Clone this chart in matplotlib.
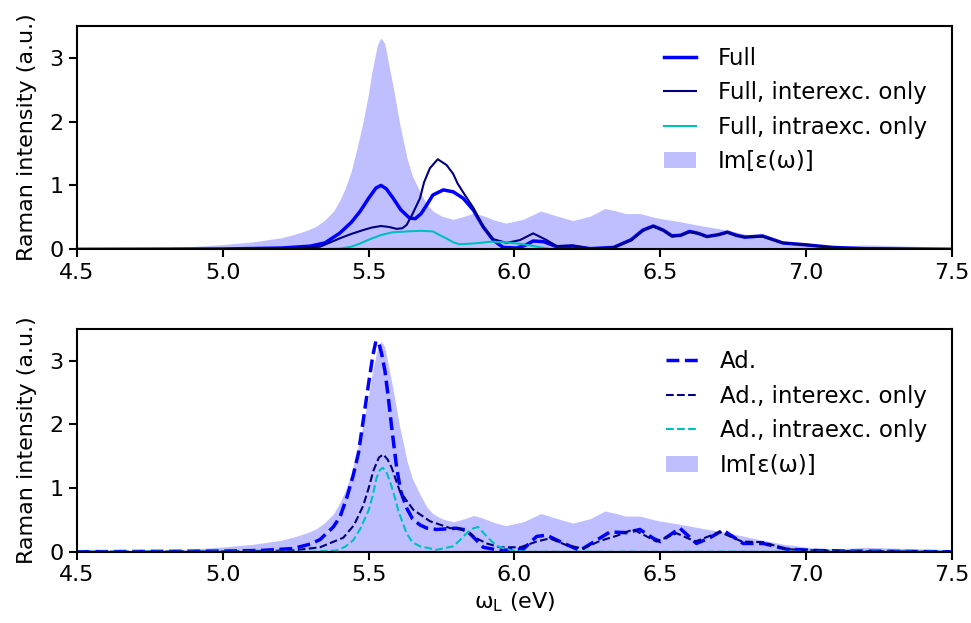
import matplotlib
matplotlib.use("Agg")
import matplotlib.pyplot as plt

# ---------------- data ----------------
# Im[eps(omega)] (shared by both panels)
im_x = [4.50, 4.60, 4.70, 4.80, 4.90, 5.00, 5.10, 5.20, 5.25, 5.29, 5.32, 5.35, 5.38, 5.40, 5.42,
        5.44, 5.46, 5.48, 5.50, 5.51, 5.52, 5.53, 5.542, 5.555, 5.565, 5.575, 5.587, 5.607, 5.632, 5.65,
        5.676, 5.70, 5.72, 5.75, 5.79, 5.83, 5.86, 5.89, 5.93, 5.97, 6.03, 6.09, 6.14, 6.20, 6.26,
        6.31, 6.35, 6.38, 6.43, 6.49, 6.57, 6.64, 6.73, 6.81, 6.92, 7.04, 7.12, 7.21, 7.35, 7.50]
im_y = [0.01, 0.012, 0.018, 0.027, 0.045, 0.075, 0.115, 0.18, 0.24, 0.30, 0.36, 0.46, 0.60, 0.76, 0.96,
        1.22, 1.58, 1.98, 2.45, 2.75, 2.98, 3.20, 3.31, 3.22, 2.99, 2.75, 2.47, 1.95, 1.42, 1.15,
        0.90, 0.70, 0.60, 0.52, 0.47, 0.52, 0.57, 0.53, 0.46, 0.41, 0.47, 0.60, 0.53, 0.45, 0.52,
        0.64, 0.60, 0.56, 0.56, 0.49, 0.43, 0.37, 0.30, 0.22, 0.12, 0.05, 0.05, 0.07, 0.05, 0.03]

# Full
full_x = [4.50, 5.00, 5.20, 5.30, 5.35, 5.40, 5.44, 5.47, 5.50, 5.525, 5.542, 5.56, 5.584, 5.61, 5.64,
          5.66, 5.68, 5.70, 5.72, 5.756, 5.79, 5.824, 5.859, 5.893, 5.927, 5.961, 6.007, 6.035, 6.064, 6.10,
          6.145, 6.20, 6.26, 6.34, 6.40, 6.44, 6.476, 6.51, 6.54, 6.57, 6.60, 6.63, 6.66, 6.70, 6.73,
          6.76, 6.79, 6.85, 6.92, 7.00, 7.09, 7.20, 7.50]
full_y = [0.00, 0.005, 0.02, 0.05, 0.10, 0.25, 0.42, 0.59, 0.80, 0.96, 1.00, 0.95, 0.80, 0.62, 0.49,
          0.48, 0.56, 0.70, 0.85, 0.93, 0.90, 0.80, 0.615, 0.35, 0.145, 0.03, 0.02, 0.06, 0.13, 0.12,
          0.04, 0.05, 0.01, 0.03, 0.15, 0.30, 0.365, 0.30, 0.21, 0.22, 0.28, 0.25, 0.20, 0.23, 0.27,
          0.22, 0.19, 0.21, 0.10, 0.07, 0.03, 0.01, 0.00]

# Full, interexc. only
finter_x = [4.50, 5.00, 5.20, 5.333, 5.40, 5.44, 5.48, 5.51, 5.542, 5.57, 5.596, 5.615, 5.63, 5.65, 5.676,
            5.69, 5.71, 5.737, 5.767, 5.79, 5.805, 5.83, 5.859, 5.893, 5.927, 5.973, 6.019, 6.064, 6.11, 6.145,
            6.20, 6.26, 6.34, 6.40, 6.44, 6.476, 6.51, 6.54, 6.57, 6.60, 6.63, 6.66, 6.70, 6.73, 6.76,
            6.79, 6.85, 6.92, 7.00, 7.09, 7.20, 7.50]
finter_y = [0.00, 0.00, 0.01, 0.04, 0.17, 0.24, 0.30, 0.34, 0.365, 0.35, 0.32, 0.33, 0.38, 0.55, 0.80,
            1.05, 1.27, 1.41, 1.32, 1.18, 1.03, 0.85, 0.65, 0.35, 0.16, 0.10, 0.145, 0.25, 0.145, 0.05,
            0.06, 0.01, 0.03, 0.14, 0.29, 0.36, 0.30, 0.20, 0.22, 0.27, 0.25, 0.20, 0.23, 0.26, 0.22,
            0.19, 0.20, 0.10, 0.07, 0.03, 0.01, 0.00]

# Full, intraexc. only
fintra_x = [4.50, 5.30, 5.40, 5.44, 5.47, 5.50, 5.54, 5.58, 5.63, 5.68, 5.72, 5.745, 5.767, 5.79, 5.81,
            5.84, 5.88, 5.92, 5.97, 6.03, 6.09, 6.13, 7.50]
fintra_y = [0.00, 0.00, 0.01, 0.04, 0.09, 0.15, 0.22, 0.265, 0.28, 0.29, 0.28, 0.22, 0.17, 0.11, 0.08,
            0.085, 0.10, 0.12, 0.11, 0.08, 0.03, 0.00, 0.00]

# Ad.
ad_x = [4.50, 5.00, 5.13, 5.24, 5.30, 5.333, 5.379, 5.402, 5.425, 5.447, 5.465, 5.481, 5.50, 5.515, 5.525,
        5.535, 5.545, 5.556, 5.568, 5.579, 5.596, 5.61, 5.63, 5.65, 5.676, 5.70, 5.733, 5.77, 5.80, 5.835,
        5.87, 5.893, 5.95, 6.03, 6.076, 6.11, 6.156, 6.224, 6.281, 6.327, 6.384, 6.43, 6.476, 6.50, 6.567,
        6.624, 6.67, 6.715, 6.784, 6.853, 6.933, 7.03, 7.15, 7.50]
ad_y = [0.00, 0.01, 0.02, 0.05, 0.12, 0.19, 0.39, 0.55, 0.85, 1.20, 1.55, 2.05, 2.65, 3.10, 3.31,
        3.28, 3.10, 2.84, 2.40, 1.95, 1.32, 0.95, 0.69, 0.52, 0.42, 0.37, 0.35, 0.36, 0.37, 0.34,
        0.18, 0.07, 0.02, 0.04, 0.24, 0.26, 0.16, 0.02, 0.18, 0.31, 0.30, 0.35, 0.21, 0.16, 0.37,
        0.13, 0.22, 0.34, 0.13, 0.13, 0.04, 0.02, 0.01, 0.00]

# Ad., interexc. only
adinter_x = [4.50, 5.00, 5.24, 5.333, 5.413, 5.45, 5.481, 5.50, 5.516, 5.535, 5.55, 5.565, 5.579, 5.607, 5.653,
             5.71, 5.78, 5.813, 5.847, 5.87, 5.905, 5.95, 6.02, 6.076, 6.121, 6.18, 6.236, 6.293, 6.35, 6.407,
             6.487, 6.556, 6.62, 6.704, 6.78, 6.853, 6.933, 7.03, 7.15, 7.50]
adinter_y = [0.00, 0.005, 0.02, 0.07, 0.22, 0.42, 0.72, 1.00, 1.27, 1.48, 1.53, 1.45, 1.32, 0.95, 0.66,
             0.48, 0.37, 0.36, 0.29, 0.21, 0.13, 0.07, 0.07, 0.16, 0.21, 0.10, 0.05, 0.17, 0.25, 0.35,
             0.16, 0.29, 0.16, 0.31, 0.16, 0.15, 0.04, 0.02, 0.01, 0.00]

# Ad., intraexc. only
adintra_x = [4.50, 5.30, 5.39, 5.42, 5.447, 5.47, 5.50, 5.515, 5.527, 5.538, 5.548, 5.56, 5.573, 5.59, 5.602,
             5.63, 5.65, 5.676, 5.733, 5.79, 5.81, 5.836, 5.855, 5.875, 5.905, 5.939, 5.99, 6.05, 7.50]
adintra_y = [0.00, 0.00, 0.02, 0.08, 0.18, 0.35, 0.65, 0.90, 1.16, 1.28, 1.32, 1.26, 1.11, 0.85, 0.64,
             0.29, 0.15, 0.085, 0.03, 0.085, 0.17, 0.29, 0.36, 0.39, 0.24, 0.09, 0.02, 0.00, 0.00]

x_ticks = [4.5, 5.0, 5.5, 6.0, 6.5, 7.0, 7.5]
y_ticks = [0, 1, 2, 3]

# ---------------- figure ----------------
plt.rcParams['font.family'] = ['DejaVu Sans']
plt.rcParams['font.size'] = 16

fig = plt.figure(figsize=(9.71, 6.23), dpi=100)
ax1 = fig.add_axes([0.0793, 0.5998, 0.9011, 0.3589])
ax2 = fig.add_axes([0.0793, 0.1144, 0.9011, 0.3575])

fill_kw = dict(color='blue', alpha=0.25, linewidth=0, zorder=0)

ax1.plot(full_x, full_y, color='blue', lw=2.5, label='Full')
ax1.plot(finter_x, finter_y, color='navy', lw=1.5, label='Full, interexc. only')
ax1.plot(fintra_x, fintra_y, color='c', lw=1.5, label='Full, intraexc. only')
ax1.fill_between(im_x, im_y, 0, label='Im[ε(ω)]', **fill_kw)

ax2.plot(ad_x, ad_y, color='blue', lw=2.5, ls='--', label='Ad.')
ax2.plot(adinter_x, adinter_y, color='navy', lw=1.5, ls='--', label='Ad., interexc. only')
ax2.plot(adintra_x, adintra_y, color='c', lw=1.5, ls='--', label='Ad., intraexc. only')
ax2.fill_between(im_x, im_y, 0, label='Im[ε(ω)]', **fill_kw)

for ax in (ax1, ax2):
    ax.set_xlim(4.5, 7.5)
    ax.set_ylim(0, 3.5)
    ax.set_xticks(x_ticks)
    ax.set_yticks(y_ticks)
    ax.set_ylabel('Raman intensity (a.u.)', fontsize=16, labelpad=9)
    ax.tick_params(labelsize=16, length=6, width=1.5)
    for sp in ax.spines.values():
        sp.set_linewidth(1.5)
    ax.legend(loc='upper right', bbox_to_anchor=(1.0, 1.018), frameon=False, fontsize=16.5,
              handlelength=1.4, labelspacing=0.5, handletextpad=0.95, borderaxespad=0.7)

ax2.set_xlabel('ω$_\\mathrm{L}$ (eV)', fontsize=16)

fig.savefig('out.png', dpi=100)
